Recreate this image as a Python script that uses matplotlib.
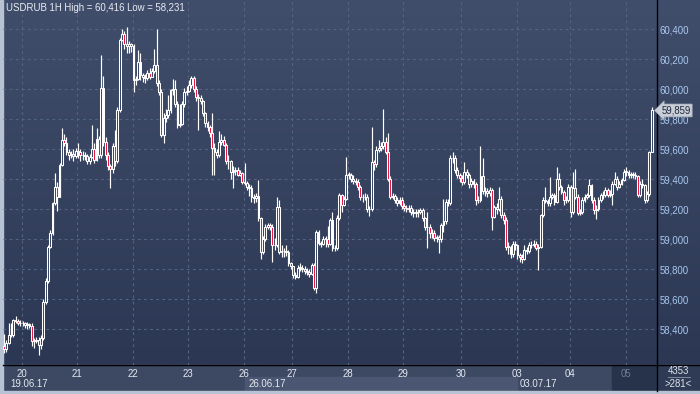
import numpy as np
import matplotlib
matplotlib.use('Agg')
import matplotlib.pyplot as plt
from matplotlib.patches import Rectangle

plt.rcParams['font.family'] = ['Liberation Sans', 'DejaVu Sans']

# -------------------------
# Data USDRUB H1 (19.06.17 - 05.07.17)
# -------------------------
first_open = 58290

closes = [
    # 19
    58270, 58310, 58360, 58365, 58460, 58455, 58440, 58445,
    # 20
    58440, 58430, 58435, 58425, 58320, 58325, 58330, 58295,
    58340, 58585, 58720, 58950, 59040, 59240, 59350, 59285,
    59495, 59660, 59640, 59585, 59560, 59570, 59555, 59590,
    # 21
    59580, 59560, 59565, 59555, 59520, 59550, 59600, 59530,
    59670, 59560, 60010, 59650, 59560, 59490, 59470, 59620,
    59520, 59860, 60330, 60370, 60300, 60290, 60300, 60290,
    # 22
    60062, 60070, 60180, 60095, 60080, 60075, 60110, 60085,
    60125, 60160, 60040, 59985, 59695, 59806, 59830, 59860,
    59995, 60000, 59905, 59765, 59770, 59900, 59985, 59990,
    # 23
    60030, 60075, 60000, 59950, 59940, 59920, 59840, 59775,
    59750, 59710, 59610, 59585, 59560, 59650, 59665, 59630,
    59520, 59520, 59450, 59455, 59465, 59430, 59440, 59385,
    # 26
    59375, 59350, 59345, 59285, 59275, 59290, 59140, 58918,
    59005, 59085, 59095, 59080, 58965, 58960, 59215, 58915,
    58925, 58920, 58915, 58840, 58820,
    # 27
    58760, 58750, 58810, 58810, 58800, 58790, 58780, 58770,
    58830, 58675, 59050, 58975, 58970, 59005, 59005, 58970,
    59128, 58940, 58945, 59140, 59295, 59230, 59270, 59430,
    # 28
    59430, 59400, 59390, 59385, 59350, 59285, 59280, 59285,
    59205, 59200, 59515, 59500, 59595, 59610, 59620, 59650,
    59585, 59405, 59285, 59290, 59265, 59240, 59265, 59225,
    # 29
    59210, 59200, 59210, 59185, 59175, 59185, 59180, 59195,
    59140, 59085, 59080, 59040, 59045, 59010, 59015, 59000,
    59095, 59120, 59250, 59245, 59540, 59540, 59460, 59430, 59410,
    # 30
    59380, 59450, 59430, 59370, 59390, 59370, 59260, 59265,
    59420, 59320, 59320, 59310, 59330, 59150, 59215, 59200,
    59270, 59160, 59130, 58950, 58950, 58905, 58970, 58960,
    # 03
    58895, 58880, 58870, 58930, 58925, 58960, 58965, 58970,
    58945, 58950, 59160, 59260, 59255, 59240, 59280, 59295,
    59250, 59405, 59350, 59315, 59260, 59265, 59350,
    # 04
    59185, 59340, 59285, 59175, 59180, 59265, 59280, 59295,
    59360, 59262, 59195, 59205, 59260, 59295, 59295, 59330,
    59295, 59305, 59370, 59405, 59350, 59370, 59395, 59450,
    # 05
    59450, 59430, 59430, 59430, 59420, 59295, 59370, 59360,
    59260, 59300, 59585, 59859,
]

highs = [
    58370, 58330, 58440, 58440, 58470, 58490, 58470, 58460,
    58455, 58450, 58450, 58445, 58440, 58340, 58350, 58350,
    58360, 58600, 58740, 58960, 59060, 59250, 59440, 59380,
    59510, 59740, 59700, 59680, 59600, 59590, 59600, 59610,
    59640, 59600, 59590, 59580, 59570, 59570, 59760, 59640,
    59740, 59690, 60230, 60090, 59680, 59580, 59500, 59640,
    59730, 59880, 60340, 60400, 60390, 60416, 60320, 60310,
    60300, 60090, 60260, 60240, 60110, 60100, 60130, 60140,
    60140, 60270, 60400, 60060, 60000, 59840, 59870, 59960,
    60000, 60070, 60060, 59920, 59900, 59920, 60010, 60020,
    60060, 60090, 60090, 60020, 59970, 59960, 59930, 59850,
    59790, 59760, 59845, 59640, 59600, 59720, 59700, 59690,
    59640, 59560, 59530, 59490, 59480, 59480, 59460, 59450,
    59510, 59390, 59370, 59360, 59300, 59310, 59395, 59150,
    59020, 59100, 59110, 59110, 59100, 59010, 59280, 59260,
    58960, 58940, 58960, 58930, 58850,
    58820, 58780, 58830, 58840, 58830, 58820, 58810, 58800,
    58840, 58840, 59060, 59060, 58990, 59020, 59020, 59090,
    59140, 59180, 58960, 59160, 59310, 59300, 59290, 59550,
    59450, 59440, 59430, 59410, 59400, 59360, 59300, 59310,
    59300, 59220, 59750, 59530, 59620, 59660, 59650, 59870,
    59680, 59710, 59420, 59310, 59300, 59280, 59280, 59280,
    59240, 59230, 59230, 59230, 59200, 59200, 59200, 59210,
    59210, 59150, 59180, 59100, 59070, 59060, 59030, 59030,
    59110, 59270, 59270, 59270, 59560, 59585, 59560, 59480, 59440,
    59430, 59515, 59470, 59440, 59410, 59400, 59380, 59290,
    59620, 59540, 59350, 59340, 59350, 59340, 59230, 59240,
    59350, 59290, 59180, 59150, 58980, 58960, 58990, 58990,
    58970, 58910, 58900, 58960, 58950, 58980, 58990, 58995,
    58990, 58970, 59170, 59280, 59350, 59270, 59415, 59310,
    59310, 59480, 59440, 59360, 59330, 59290, 59370,
    59360, 59450, 59470, 59300, 59200, 59280, 59300, 59310,
    59405, 59370, 59280, 59230, 59280, 59310, 59320, 59350,
    59340, 59330, 59390, 59450, 59420, 59390, 59410, 59470,
    59480, 59460, 59450, 59450, 59450, 59430, 59390, 59400,
    59370, 59320, 59590, 59885,
]

lows = [
    58240, 58250, 58300, 58350, 58350, 58440, 58430, 58425,
    58420, 58410, 58400, 58410, 58290, 58275, 58310, 58231,
    58270, 58330, 58570, 58710, 58940, 59030, 59230, 59190,
    59280, 59490, 59620, 59560, 59530, 59540, 59520, 59540,
    59540, 59520, 59530, 59530, 59500, 59500, 59540, 59510,
    59520, 59540, 59540, 59620, 59530, 59460, 59340, 59440,
    59490, 59510, 59850, 60320, 60270, 60240, 60240, 60250,
    59980, 60030, 60060, 60060, 60050, 60040, 60060, 60070,
    60080, 60110, 60020, 59960, 59680, 59640, 59780, 59810,
    59840, 59960, 59880, 59740, 59750, 59760, 59880, 59960,
    59980, 60010, 59980, 59920, 59730, 59900, 59820, 59750,
    59720, 59680, 59430, 59430, 59540, 59550, 59630, 59620,
    59500, 59470, 59400, 59340, 59430, 59420, 59420, 59370,
    59360, 59330, 59290, 59250, 59240, 59250, 59120, 58866,
    58900, 58990, 59070, 59060, 58850, 58930, 58950, 58900,
    58880, 58880, 58890, 58820, 58800,
    58740, 58733, 58740, 58790, 58780, 58770, 58760, 58750,
    58760, 58660, 58640, 58960, 58950, 58960, 58950, 58950,
    58960, 58920, 58920, 58930, 59130, 59180, 59220, 59260,
    59400, 59380, 59370, 59360, 59330, 59260, 59250, 59260,
    59180, 59155, 59190, 59460, 59480, 59580, 59590, 59600,
    59570, 59390, 59270, 59270, 59240, 59220, 59230, 59200,
    59190, 59180, 59180, 59160, 59150, 59150, 59150, 59170,
    59120, 59060, 58940, 59010, 59010, 58990, 58980, 58910,
    58980, 59050, 59100, 59220, 59230, 59510, 59440, 59410, 59380,
    59360, 59370, 59410, 59340, 59350, 59340, 59230, 59240,
    59250, 59300, 59290, 59280, 59290, 59065, 59140, 59170,
    59190, 59140, 59100, 58930, 58900, 58873, 58880, 58930,
    58870, 58850, 58840, 58860, 58900, 58910, 58940, 58950,
    58930, 58795, 58940, 59150, 59240, 59220, 59220, 59270,
    59230, 59240, 59330, 59300, 59230, 59240, 59250,
    59150, 59170, 59270, 59160, 59160, 59170, 59250, 59270,
    59280, 59240, 59170, 59133, 59190, 59250, 59270, 59280,
    59280, 59280, 59230, 59360, 59330, 59340, 59360, 59390,
    59420, 59410, 59410, 59410, 59400, 59280, 59280, 59340,
    59240, 59250, 59290, 59580,
]

day_labels = ["20", "21", "22", "23", "26", "27", "28", "29", "30", "03", "04", "05"]
day_start = [8, 32, 56, 80, 104, 125, 149, 173, 198, 222, 245, 269]
price_ticks = [58400, 58600, 58800, 59000, 59200, 59400, 59600, 59800, 60000, 60200, 60400]
last_price = 59859

# -------------------------
# Warna
# -------------------------
BG_TOP = '#414e6b'
BG_BOT = '#2b3753'
PANEL = '#3d4963'
GRID = '#56637f'
RED = '#e8113c'
FS = 6.9

W, H = 700, 394
fig = plt.figure(figsize=(W / 100, H / 100), dpi=100)
fig.patch.set_facecolor(PANEL)

# background (koordinat piksel)
bg = fig.add_axes([0, 0, 1, 1])
bg.set_xlim(0, W)
bg.set_ylim(H, 0)
bg.axis('off')
grad = np.linspace(0, 1, 256).reshape(-1, 1)
cmap = matplotlib.colors.LinearSegmentedColormap.from_list('bg', [BG_TOP, BG_BOT])
bg.imshow(grad, cmap=cmap, extent=[0, W, 364.5, 0], aspect='auto', zorder=0)
bg.add_patch(Rectangle((0, 364.5), W, H - 364.5, color=PANEL, zorder=1))
bg.add_patch(Rectangle((245, 377), 272, 14, color='#4b5772', zorder=1))
bg.add_patch(Rectangle((612, 365), 44, 26, color='#27324b', zorder=1))
bg.add_patch(Rectangle((657, 365), 43, 26, color='#2f3b55', zorder=1))
bg.add_patch(Rectangle((0, 0), 3, H, color='#b7c2d2', zorder=2))
bg.add_patch(Rectangle((0, 391), W, 3, color='#b7c2d2', zorder=2))
bg.plot([3, W], [364.5, 364.5], color='black', lw=1, zorder=3)
bg.plot([656.5, 656.5], [0, 391], color='black', lw=1, zorder=3)
bg.plot([668, 690], [377, 377], color='#8a96ab', lw=0.6, zorder=3)

# -------------------------
# Chart utama
# -------------------------
px_per_bar = 2.313
y0 = 59000 + 239.3 / 0.15
y1 = 59000 - (364.5 - 239.3) / 0.15
ax = fig.add_axes([3 / W, (H - 364.5) / H, 653.5 / W, 364.5 / H])
ax.patch.set_alpha(0)
ax.set_xlim((3 - 4) / px_per_bar, (656.5 - 4) / px_per_bar)
ax.set_ylim(y1, y0)

x = np.arange(len(closes))
c = np.array(closes, dtype=float)
o = np.concatenate([[first_open], c[:-1]])
hi = np.array(highs, dtype=float)
lo = np.array(lows, dtype=float)

for p in price_ticks:
    ax.axhline(p, color=GRID, lw=0.8, dashes=(2.5, 3), zorder=1)
for d in day_start:
    ax.axvline(d - 0.3, color=GRID, lw=0.8, dashes=(2.5, 3), zorder=1)

ax.vlines(x, lo, hi, color='white', lw=0.85, zorder=2)
up = c >= o
body_h = np.maximum(np.abs(c - o), 3)
ax.bar(x[up], body_h[up], bottom=np.minimum(o, c)[up], width=0.8,
       color='#35425e', edgecolor='white', linewidth=0.75, zorder=3)
ax.bar(x[~up], body_h[~up], bottom=np.minimum(o, c)[~up], width=0.8,
       color=RED, edgecolor='white', linewidth=0.75, zorder=3)

for s in ax.spines.values():
    s.set_visible(False)

ax.yaxis.tick_right()
ax.set_yticks(price_ticks)
ax.set_yticklabels([f"{p:,}" for p in price_ticks])
ax.tick_params(axis='y', length=0, pad=2.2, labelsize=FS, labelcolor='#a9c8f0')
ax.set_xticks([d - 0.3 for d in day_start])
ax.set_xticklabels(day_labels)
ax.tick_params(axis='x', length=0, pad=3.5, labelsize=FS, labelcolor='#e4e9f1')
ax.get_xticklabels()[-1].set_color('#6d7c98')

ax.text(0.004, 0.993, "USDRUB 1H High = 60,416 Low = 58,231", transform=ax.transAxes,
        ha='left', va='top', fontsize=FS, color='#e8ecf3')

# label harga terakhir
ax.annotate(f"{last_price:,}", xy=(1.0, last_price), xycoords=('axes fraction', 'data'),
            xytext=(3.5, 0), textcoords='offset points', ha='left', va='center',
            fontsize=FS, color='#1d2940', annotation_clip=False, zorder=10,
            bbox=dict(boxstyle='larrow,pad=0.15', fc='#c9ced7', ec='#9da6b5', lw=0.5))

# tanggal di panel bawah
fig.text(10 / W, 1 - 384 / H, "19.06.17", fontsize=FS, color='#e4e9f1', va='center')
fig.text(249 / W, 1 - 384 / H, "26.06.17", fontsize=FS, color='#e4e9f1', va='center')
fig.text(520 / W, 1 - 384 / H, "03.07.17", fontsize=FS, color='#e4e9f1', va='center')
fig.text(678 / W, 1 - 371.5 / H, "4353", fontsize=FS, color='#dfe5ee', ha='center', va='center')
fig.text(678 / W, 1 - 384 / H, ">281<", fontsize=FS, color='#dfe5ee', ha='center', va='center')

fig.savefig('out.png', dpi=100, facecolor=fig.get_facecolor())
